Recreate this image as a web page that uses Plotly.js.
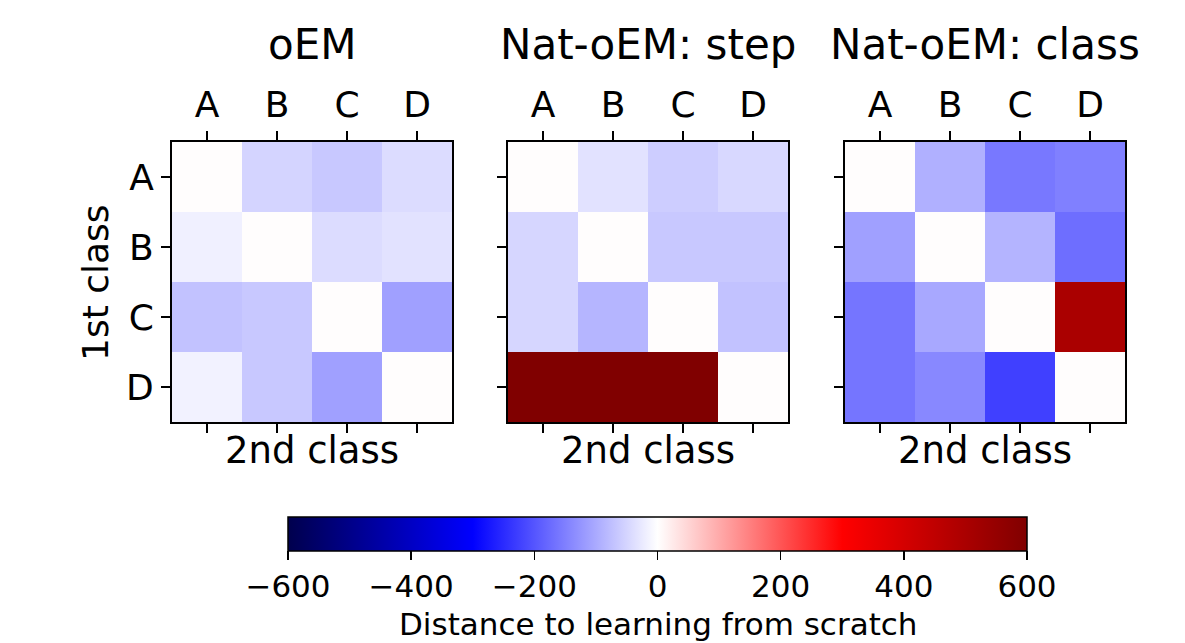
<!DOCTYPE html>
<html>
<head>
<meta charset="utf-8">
<script src="https://cdn.plot.ly/plotly-3.0.1.min.js"></script>
<style>html,body{margin:0;padding:0;background:#fff;}#chart{width:1185px;height:643px;}</style>
</head>
<body>
<div id="chart"></div>
<script>
const classes = ['A', 'B', 'C', 'D'];
const panelTitles = ['oEM', 'Nat-oEM: step', 'Nat-oEM: class'];
// rows = 1st class (A..D), columns = 2nd class (A..D)
const oEM = [
  [2, -51, -65, -41],
  [-18, 2, -41, -34],
  [-72, -65, 2, -112],
  [-15, -65, -112, 2]
];
const natStep = [
  [2, -34, -59, -46],
  [-48, 2, -65, -65],
  [-48, -87, 2, -72],
  [600, 600, 600, 2]
];
const natClass = [
  [2, -93, -159, -149],
  [-112, 2, -88, -171],
  [-162, -102, 2, 500],
  [-162, -140, -225, 2]
];
const zRange = [-600, 600];
const cbTicks = [-600, -400, -200, 0, 200, 400, 600];
const cbTitle = 'Distance to learning from scratch';
const xTitle = '2nd class';
const yTitle = '1st class';

const seismic = [
  [0, 'rgb(0,0,77)'],
  [0.25, 'rgb(0,0,255)'],
  [0.5, 'rgb(255,255,255)'],
  [0.75, 'rgb(255,0,0)'],
  [1, 'rgb(128,0,0)']
];

const W = 1185, H = 643;
const FONT = 'DejaVu Sans, sans-serif';
const xDomains = [[172 / W, 452 / W], [508 / W, 788 / W], [845 / W, 1125 / W]];
const yDomain = [1 - 422 / H, 1 - 142 / H];
const datasets = [oEM, natStep, natClass];

const traces = datasets.map((z, i) => ({
  type: 'heatmap',
  z: z,
  x: classes,
  y: classes,
  xaxis: i === 0 ? 'x' : 'x' + (i + 1),
  yaxis: i === 0 ? 'y' : 'y' + (i + 1),
  colorscale: seismic,
  zmin: zRange[0],
  zmax: zRange[1],
  showscale: i === 0,
  hoverinfo: 'x+y+z',
  colorbar: i === 0 ? {
    orientation: 'h',
    x: ((288 + 1027) / 2) / W,
    xanchor: 'center',
    y: 1 - 517 / H,
    yanchor: 'top',
    len: (1027 - 288) / W,
    lenmode: 'fraction',
    thickness: 34,
    thicknessmode: 'pixels',
    outlinewidth: 1.5,
    outlinecolor: '#000',
    tickmode: 'array',
    tickvals: cbTicks,
    ticks: 'outside',
    ticklen: 9,
    tickwidth: 1.5,
    tickcolor: '#000',
    tickfont: {family: FONT, size: 31, color: '#000'},
    xpad: 0,
    ypad: 0
  } : undefined
}));

const layout = {
  width: W,
  height: H,
  margin: {l: 0, r: 0, t: 0, b: 0},
  paper_bgcolor: '#fff',
  plot_bgcolor: '#fff',
  font: {family: FONT, size: 36, color: '#000'},
  showlegend: false,
  annotations: []
};

for (let i = 0; i < 3; i++) {
  const sx = i === 0 ? '' : String(i + 1);
  layout['xaxis' + sx] = {
    domain: xDomains[i],
    anchor: 'y' + sx,
    type: 'category',
    categoryarray: classes,
    side: 'top',
    showline: true,
    linecolor: '#000',
    linewidth: 2,
    mirror: 'ticks',
    ticks: 'outside',
    ticklen: 9,
    tickwidth: 1.5,
    tickcolor: '#000',
    showgrid: false,
    zeroline: false,
    tickfont: {family: FONT, size: 36, color: '#000'},
    fixedrange: true
  };
  layout['yaxis' + sx] = {
    domain: yDomain,
    anchor: 'x' + sx,
    type: 'category',
    categoryarray: classes,
    autorange: 'reversed',
    showline: true,
    linecolor: '#000',
    linewidth: 2,
    mirror: true,
    ticks: 'outside',
    ticklen: 9,
    tickwidth: 1.5,
    tickcolor: '#000',
    showgrid: false,
    zeroline: false,
    showticklabels: i === 0,
    tickfont: {family: FONT, size: 36, color: '#000'},
    fixedrange: true
  };
  const cx = (xDomains[i][0] + xDomains[i][1]) / 2;
  layout.annotations.push({
    text: panelTitles[i], xref: 'paper', yref: 'paper',
    x: cx, y: 1 - 45 / H, xanchor: 'center', yanchor: 'middle',
    showarrow: false, font: {family: FONT, size: 42, color: '#000'}
  });
  layout.annotations.push({
    text: xTitle, xref: 'paper', yref: 'paper',
    x: cx, y: 1 - 450 / H, xanchor: 'center', yanchor: 'middle',
    showarrow: false, font: {family: FONT, size: 37, color: '#000'}
  });
}
layout.annotations.push({
  text: yTitle, xref: 'paper', yref: 'paper',
  x: 95 / W, y: 1 - 283 / H, xanchor: 'center', yanchor: 'middle',
  textangle: -90, showarrow: false, font: {family: FONT, size: 36, color: '#000'}
});
layout.annotations.push({
  text: cbTitle, xref: 'paper', yref: 'paper',
  x: ((288 + 1027) / 2) / W, y: 1 - 624 / H, xanchor: 'center', yanchor: 'middle',
  showarrow: false, font: {family: FONT, size: 31, color: '#000'}
});

Plotly.newPlot('chart', traces, layout, {staticPlot: true, displayModeBar: false});
</script>
</body>
</html>
